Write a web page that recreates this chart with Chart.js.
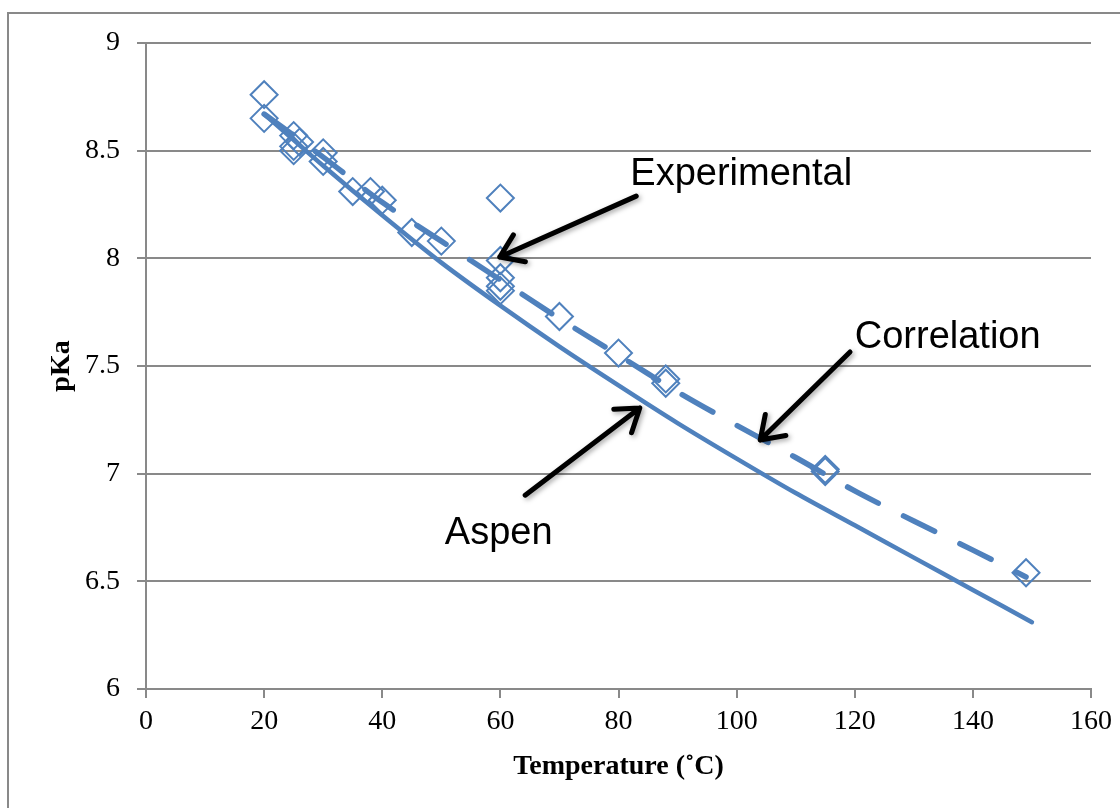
<!DOCTYPE html>
<html>
<head>
<meta charset="utf-8">
<script src="https://cdn.jsdelivr.net/npm/chart.js@4.4.1/dist/chart.umd.min.js"></script>
<style>
  html, body { margin: 0; padding: 0; background: #ffffff; }
  #wrap { width: 1120px; height: 808px; position: relative; }
</style>
</head>
<body>
<div id="wrap"><canvas id="c"></canvas></div>
<script>
// ---- Data ----
const expTemp = [20, 20, 25, 25, 26, 25, 30, 30, 35, 38, 40, 45, 50, 60, 60, 60, 60, 60, 70, 80, 88, 88, 115, 115, 149];
const expPka  = [8.76, 8.65, 8.57, 8.52, 8.54, 8.50, 8.49, 8.45, 8.31, 8.31, 8.27, 8.12, 8.08, 8.28, 7.99, 7.91, 7.87, 7.85, 7.73, 7.56, 7.44, 7.42, 7.02, 7.01, 6.54];

const corrTemp = [20, 30, 40, 50, 60, 70, 80, 90, 100, 110, 120, 130, 140, 149];
const corrPka  = [8.67, 8.47, 8.26, 8.08, 7.90, 7.72, 7.55, 7.38, 7.225, 7.075, 6.92, 6.78, 6.645, 6.52];

const aspenTemp = [20, 30, 40, 50, 60, 70, 80, 90, 100, 110, 120, 130, 140, 150];
const aspenPka  = [8.67, 8.43, 8.20, 7.98, 7.78, 7.59, 7.41, 7.235, 7.07, 6.91, 6.76, 6.61, 6.46, 6.31];

const xTicks = [0, 20, 40, 60, 80, 100, 120, 140, 160];
const yTicks = [6, 6.5, 7, 7.5, 8, 8.5, 9];

const xTitle = 'Temperature (˚C)';
const yTitle = 'pKa';

// Annotation labels and their anchors (in data units)
const noteText = ['Experimental', 'Correlation', 'Aspen'];
const noteTextAt = [[82.0, 8.387], [120.0, 7.63], [50.6, 6.724]];
const noteArrowFrom = [[83.0, 8.289], [119.2, 7.565], [64.2, 6.90]];
const noteArrowTo = [[59.9, 8.006], [104.0, 7.156], [83.6, 7.305]];

const toXY = (xs, ys) => xs.map((x, i) => ({ x: x, y: ys[i] }));

const BLUE = '#4f81bd';
const GRID = '#898989';

const frameAndNotes = {
  id: 'frameAndNotes',
  beforeDraw(chart) {
    const ctx = chart.ctx;
    ctx.save();
    ctx.fillStyle = '#ffffff';
    ctx.fillRect(0, 0, chart.width, chart.height);
    ctx.strokeStyle = GRID;
    ctx.lineWidth = 2;
    ctx.strokeRect(8, 13, chart.width + 20, chart.height + 20);
    ctx.restore();
  },
  afterDatasetsDraw(chart) {
    const ctx = chart.ctx;
    const xs = chart.scales.x, ys = chart.scales.y;
    ctx.save();
    for (let i = 0; i < noteText.length; i++) {
      const x1 = xs.getPixelForValue(noteArrowFrom[i][0]);
      const y1 = ys.getPixelForValue(noteArrowFrom[i][1]);
      const x2 = xs.getPixelForValue(noteArrowTo[i][0]);
      const y2 = ys.getPixelForValue(noteArrowTo[i][1]);
      const ang = Math.atan2(y2 - y1, x2 - x1);
      const head = 26, spread = 0.6;
      ctx.shadowColor = 'rgba(0,0,0,0.35)';
      ctx.shadowBlur = 5;
      ctx.shadowOffsetX = 2;
      ctx.shadowOffsetY = 2;
      ctx.strokeStyle = '#000000';
      ctx.lineWidth = 5;
      ctx.lineCap = 'round';
      ctx.lineJoin = 'round';
      ctx.beginPath();
      ctx.moveTo(x1, y1);
      ctx.lineTo(x2, y2);
      ctx.moveTo(x2 - head * Math.cos(ang - spread), y2 - head * Math.sin(ang - spread));
      ctx.lineTo(x2, y2);
      ctx.lineTo(x2 - head * Math.cos(ang + spread), y2 - head * Math.sin(ang + spread));
      ctx.stroke();
    }
    ctx.shadowColor = 'transparent';
    ctx.shadowBlur = 0;
    ctx.shadowOffsetX = 0;
    ctx.shadowOffsetY = 0;
    ctx.fillStyle = '#000000';
    ctx.font = '38px "Liberation Sans", Arial, sans-serif';
    ctx.textAlign = 'left';
    ctx.textBaseline = 'middle';
    for (let i = 0; i < noteText.length; i++) {
      const tx = xs.getPixelForValue(noteTextAt[i][0]);
      const ty = ys.getPixelForValue(noteTextAt[i][1]);
      ctx.fillText(noteText[i], tx, ty);
    }
    ctx.restore();
  }
};

const serif = '"Liberation Serif", "Times New Roman", serif';

new Chart(document.getElementById('c'), {
  type: 'scatter',
  data: {
    datasets: [
      {
        label: 'Aspen',
        data: toXY(aspenTemp, aspenPka),
        showLine: true,
        borderColor: BLUE,
        borderWidth: 4.5,
        pointRadius: 0,
        tension: 0.3,
        borderCapStyle: 'round',
        fill: false
      },
      {
        label: 'Correlation',
        data: toXY(corrTemp, corrPka),
        showLine: true,
        borderColor: BLUE,
        borderWidth: 5.5,
        borderDash: [35, 28],
        borderCapStyle: 'round',
        pointRadius: 0,
        tension: 0.3,
        fill: false
      },
      {
        label: 'Experimental',
        data: toXY(expTemp, expPka),
        showLine: false,
        pointStyle: 'rectRot',
        pointRadius: 13.5,
        pointBorderWidth: 2,
        pointBorderColor: BLUE,
        pointBackgroundColor: 'rgba(0,0,0,0)'
      }
    ]
  },
  options: {
    responsive: true,
    maintainAspectRatio: false,
    animation: false,
    layout: { padding: { top: 43, right: 29, left: 0, bottom: 0 } },
    plugins: {
      legend: { display: false },
      tooltip: { enabled: false }
    },
    scales: {
      x: {
        type: 'linear',
        min: 0,
        max: 160,
        afterBuildTicks: (s) => { s.ticks = xTicks.map(v => ({ value: v })); },
        afterFit: (s) => { s.height = 119; },
        grid: { drawOnChartArea: false, drawTicks: true, tickLength: 9, color: GRID, lineWidth: 2 },
        border: { display: true, color: GRID, width: 2 },
        ticks: { color: '#000', font: { family: serif, size: 28 }, padding: 7, maxRotation: 0, callback: (v) => String(v) },
        title: { display: true, text: xTitle, color: '#000', font: { family: serif, size: 28, weight: 'bold' }, padding: { top: 0, bottom: 24 } }
      },
      y: {
        type: 'linear',
        min: 6,
        max: 9,
        afterBuildTicks: (s) => { s.ticks = yTicks.map(v => ({ value: v })); },
        afterFit: (s) => { s.width = 146; },
        grid: { drawOnChartArea: true, drawTicks: true, tickLength: 9, color: GRID, lineWidth: 2 },
        border: { display: true, color: GRID, width: 2 },
        ticks: { color: '#000', font: { family: serif, size: 28 }, padding: 17, callback: (v) => String(v) },
        title: { display: true, text: yTitle, color: '#000', font: { family: serif, size: 28, weight: 'bold' }, padding: { top: 45, bottom: 0 } }
      }
    }
  },
  plugins: [frameAndNotes]
});
</script>
</body>
</html>
